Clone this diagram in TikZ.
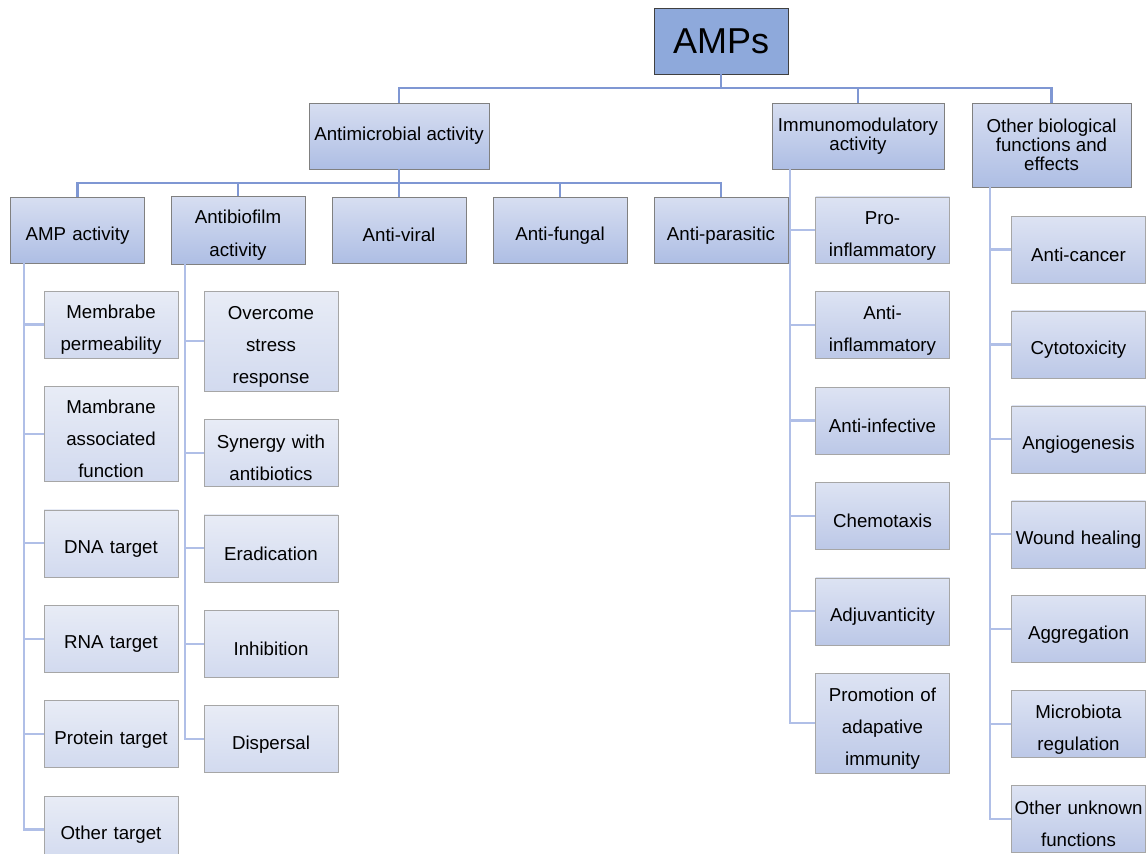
\documentclass[tikz,border=0pt]{standalone}
\usepackage{fontspec}
\setmainfont{Liberation Sans}
\usetikzlibrary{positioning}
\definecolor{rootfill}{HTML}{8EA9DB}
\definecolor{rootline}{HTML}{404040}
\definecolor{grouptop}{HTML}{D7DEF1}
\definecolor{groupbot}{HTML}{AEBEE4}
\definecolor{groupline}{HTML}{808080}
\definecolor{leaftop}{HTML}{E8ECF6}
\definecolor{leafbot}{HTML}{D2DAEF}
\definecolor{darktop}{HTML}{DDE3F3}
\definecolor{darkbot}{HTML}{BCC8E7}
\definecolor{leafline}{HTML}{A6A6A6}
\definecolor{busblue}{HTML}{7F97D3}
\definecolor{twigblue}{HTML}{B0BFE7}
\tikzstyle{root} = [rectangle,
minimum width=134pt,
minimum height=66pt,
draw=rootline,
fill=rootfill,
font=\fontsize{36}{40}\selectfont]
\tikzstyle{group} = [rectangle,
minimum height=66pt,
align=center,
draw=groupline,
top color=grouptop, bottom color=groupbot,
font=\fontsize{18.7}{19}\selectfont]
\tikzstyle{branch} = [group,
minimum width=134pt,
inner xsep=3pt,
text width=128pt,
execute at begin node={\rule{0pt}{24pt}},
font=\fontsize{18.7}{33}\selectfont]
\tikzstyle{leaf} = [rectangle,
minimum width=134pt,
minimum height=67pt,
inner xsep=3pt,
text width=128pt,
align=center,
draw=leafline,
top color=leaftop, bottom color=leafbot,
execute at begin node={\rule{0pt}{24pt}},
font=\fontsize{18.7}{32}\selectfont]
\tikzstyle{leafdark} = [leaf, top color=darktop, bottom color=darkbot]
\tikzstyle{bus} = [line width=2.2pt, draw=busblue]
\tikzstyle{twig} = [line width=2.2pt, draw=twigblue]
\begin{document}
\begin{tikzpicture}[x=1pt, y=-1pt, node distance=28pt]
			\clip (0,0) rectangle (1146,854);
			\useasboundingbox (0,0) rectangle (1146,854);
			% top levels
			\node (amps) [root] at (721,41) {AMPs};
			\node (antimicro) [group, minimum width=180pt] at (399,136) {Antimicrobial activity};
			\node (immuno) [group, minimum width=172pt] at (858,136) {Immunomodulatory\\activity};
			\node (otherbio) [group, minimum width=159pt, minimum height=84pt] at (1051.5,145) {Other biological\\functions and\\effects};
			% antimicrobial branches
			\node (ampact) [branch] at (77.5,230) {AMP activity};
			\node (antibio) [branch] at (238,230) {Antibiofilm\\activity};
			\node (antiviral) [branch] at (399,230) {Anti-viral};
			\node (antifungal) [branch] at (560,230) {Anti-fungal};
			\node (antipara) [branch] at (721,230) {Anti-parasitic};
			% AMP activity
			\node (memb) [leaf] at (111,324.5) {Membrabe\\permeability};
			\node (mamb) [leaf, below=of memb, minimum height=95pt] {Mambrane\\associated\\function};
			\node (dna) [leaf, below=of mamb] {DNA target};
			\node (rna) [leaf, below=of dna] {RNA target};
			\node (prot) [leaf, below=of rna] {Protein target};
			\node (othtarget) [leaf, below=of prot] {Other target};
			% antibiofilm activity
			\node (stress) [leaf, minimum height=100pt] at (271,341) {Overcome\\stress\\response};
			\node (synergy) [leaf, below=of stress] {Synergy with\\antibiotics};
			\node (erad) [leaf, below=of synergy] {Eradication};
			\node (inhib) [leaf, below=of erad] {Inhibition};
			\node (disp) [leaf, below=of inhib] {Dispersal};
			% immunomodulatory activity
			\node (proinf) [leafdark, minimum height=66pt] at (882.5,230) {Pro-\\inflammatory};
			\node (antiinf) [leafdark, below=of proinf] {Anti-\\inflammatory};
			\node (antiinfect) [leafdark, below=of antiinf] {Anti-infective};
			\node (chemo) [leafdark, below=of antiinfect] {Chemotaxis};
			\node (adjuv) [leafdark, below=of chemo] {Adjuvanticity};
			\node (promo) [leafdark, below=of adjuv, minimum height=100pt] {Promotion of\\adapative\\immunity};
			% other biological functions
			\node (cancer) [leafdark] at (1078.5,249.5) {Anti-cancer};
			\node (cyto) [leafdark, below=27.5pt of cancer] {Cytotoxicity};
			\node (angio) [leafdark, below=27.5pt of cyto] {Angiogenesis};
			\node (wound) [leafdark, below=27.5pt of angio] {Wound healing};
			\node (aggreg) [leafdark, below=27.5pt of wound] {Aggregation};
			\node (microb) [leafdark, below=27.5pt of aggreg] {Microbiota\\regulation};
			\node (unknown) [leafdark, below=27.5pt of microb] {Other unknown\\functions};

			\draw[bus] (amps.south) -- ++(0,14) -| (antimicro.north)
							(amps.south) -- ++(0,14) -| (immuno.north)
							(amps.south) -- ++(0,14) -| (otherbio.north);
			\draw[bus] (antimicro.south) -- ++(0,14) -| (ampact.north)
							(antimicro.south) -- ++(0,14) -| (antibio.north)
							(antimicro.south) -- (antiviral.north)
							(antimicro.south) -- ++(0,14) -| (antifungal.north)
							(antimicro.south) -- ++(0,14) -| (antipara.north);
			\draw[twig] (ampact.south west) ++(14,0) |- (memb.west)
							(ampact.south west) ++(14,0) |- (mamb.west)
							(ampact.south west) ++(14,0) |- (dna.west)
							(ampact.south west) ++(14,0) |- (rna.west)
							(ampact.south west) ++(14,0) |- (prot.west)
							(ampact.south west) ++(14,0) |- (othtarget.west);
			\draw[twig] (antibio.south west) ++(14,0) |- (stress.west)
							(antibio.south west) ++(14,0) |- (synergy.west)
							(antibio.south west) ++(14,0) |- (erad.west)
							(antibio.south west) ++(14,0) |- (inhib.west)
							(antibio.south west) ++(14,0) |- (disp.west);
			\draw[twig] (immuno.south west) ++(18,0) |- (proinf.west)
							(immuno.south west) ++(18,0) |- (antiinf.west)
							(immuno.south west) ++(18,0) |- (antiinfect.west)
							(immuno.south west) ++(18,0) |- (chemo.west)
							(immuno.south west) ++(18,0) |- (adjuv.west)
							(immuno.south west) ++(18,0) |- (promo.west);
			\draw[twig] (otherbio.south west) ++(18,0) |- (cancer.west)
							(otherbio.south west) ++(18,0) |- (cyto.west)
							(otherbio.south west) ++(18,0) |- (angio.west)
							(otherbio.south west) ++(18,0) |- (wound.west)
							(otherbio.south west) ++(18,0) |- (aggreg.west)
							(otherbio.south west) ++(18,0) |- (microb.west)
							(otherbio.south west) ++(18,0) |- (unknown.west);
		\end{tikzpicture}
\end{document}
